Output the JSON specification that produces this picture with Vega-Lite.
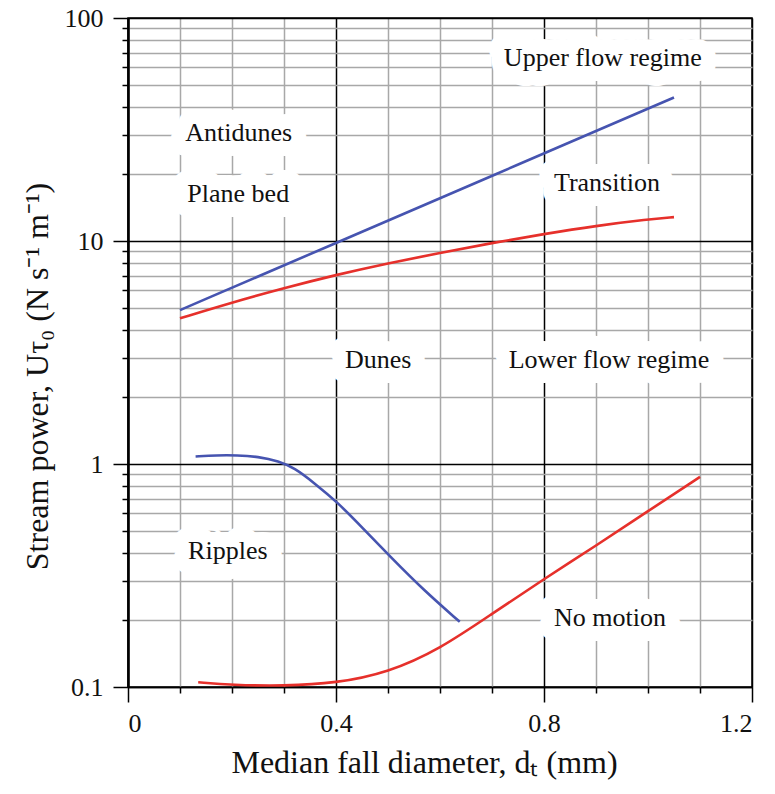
{
  "$schema": "https://vega.github.io/schema/vega-lite/v6.json",
  "width": 624,
  "height": 669,
  "autosize": "none",
  "padding": {"left": 128, "top": 18, "right": 23, "bottom": 107},
  "background": "white",
  "config": {
    "view": {"stroke": "black", "strokeWidth": 1.5},
    "axis": {
      "labelFont": "Liberation Serif",
      "titleFont": "Liberation Serif",
      "labelFontSize": 26,
      "titleFontSize": 32,
      "labelColor": "#111111",
      "titleColor": "#111111",
      "titleFontWeight": "normal",
      "tickColor": "black",
      "tickWidth": 1.5,
      "domainColor": "black"
    }
  },
  "datasets": {
    "curves": [
      {"curve": "upper_blue", "d": 0.1, "p": 4.9},
      {"curve": "upper_blue", "d": 0.4, "p": 9.8},
      {"curve": "upper_blue", "d": 0.7, "p": 19.6},
      {"curve": "upper_blue", "d": 1.05, "p": 44},
      {"curve": "upper_red", "d": 0.1, "p": 4.5},
      {"curve": "upper_red", "d": 0.2, "p": 5.3},
      {"curve": "upper_red", "d": 0.3, "p": 6.15},
      {"curve": "upper_red", "d": 0.4, "p": 7.05},
      {"curve": "upper_red", "d": 0.5, "p": 7.95},
      {"curve": "upper_red", "d": 0.6, "p": 8.85},
      {"curve": "upper_red", "d": 0.7, "p": 9.8},
      {"curve": "upper_red", "d": 0.8, "p": 10.75},
      {"curve": "upper_red", "d": 0.9, "p": 11.7},
      {"curve": "upper_red", "d": 1.0, "p": 12.5},
      {"curve": "upper_red", "d": 1.05, "p": 12.8},
      {"curve": "ripple_blue", "d": 0.13, "p": 1.08},
      {"curve": "ripple_blue", "d": 0.17, "p": 1.095},
      {"curve": "ripple_blue", "d": 0.21, "p": 1.095},
      {"curve": "ripple_blue", "d": 0.25, "p": 1.08},
      {"curve": "ripple_blue", "d": 0.29, "p": 1.03},
      {"curve": "ripple_blue", "d": 0.32, "p": 0.96},
      {"curve": "ripple_blue", "d": 0.356, "p": 0.83},
      {"curve": "ripple_blue", "d": 0.404, "p": 0.67},
      {"curve": "ripple_blue", "d": 0.45, "p": 0.52},
      {"curve": "ripple_blue", "d": 0.504, "p": 0.385},
      {"curve": "ripple_blue", "d": 0.57, "p": 0.27},
      {"curve": "ripple_blue", "d": 0.638, "p": 0.196},
      {"curve": "motion_red", "d": 0.135, "p": 0.105},
      {"curve": "motion_red", "d": 0.2, "p": 0.102},
      {"curve": "motion_red", "d": 0.3, "p": 0.101},
      {"curve": "motion_red", "d": 0.4, "p": 0.104},
      {"curve": "motion_red", "d": 0.5, "p": 0.116},
      {"curve": "motion_red", "d": 0.6, "p": 0.148},
      {"curve": "motion_red", "d": 0.7, "p": 0.213},
      {"curve": "motion_red", "d": 0.8, "p": 0.305},
      {"curve": "motion_red", "d": 0.9, "p": 0.43},
      {"curve": "motion_red", "d": 1.0, "p": 0.615},
      {"curve": "motion_red", "d": 1.1, "p": 0.875}
    ],
    "labels": [
      {"label": "Upper flow regime", "d": 0.913, "p": 66},
      {"label": "Antidunes", "d": 0.213, "p": 30.5},
      {"label": "Plane bed", "d": 0.212, "p": 16.2},
      {"label": "Transition", "d": 0.921, "p": 18.2},
      {"label": "Dunes", "d": 0.481, "p": 2.93},
      {"label": "Lower flow regime", "d": 0.925, "p": 2.93},
      {"label": "Ripples", "d": 0.192, "p": 0.407},
      {"label": "No motion", "d": 0.927, "p": 0.204}
    ]
  },
  "layer": [
    {
      "data": {"name": "labels"},
      "mark": {"type": "text", "font": "Liberation Serif", "fontSize": 26, "fill": "white", "stroke": "white", "strokeWidth": 30, "strokeJoin": "round", "baseline": "middle", "align": "center"},
      "encoding": {
        "x": {"field": "d", "type": "quantitative", "scale": {"domain": [0, 1.2], "nice": false, "zero": false},
          "axis": {"orient": "bottom", "values": [0, 0.4, 0.8, 1.2], "format": "~g", "grid": true, "gridColor": "black", "gridWidth": 1.5, "tickSize": 15, "labelPadding": 8, "domainWidth": 1.5, "title": "Median fall diameter,  dₜ (mm)", "titlePadding": 11, "titleX": 296}},
        "y": {"field": "p", "type": "quantitative", "scale": {"type": "log", "domain": [0.1, 100], "nice": false},
          "axis": {"orient": "left", "values": [0.1, 1, 10, 100], "format": "~g", "grid": true, "gridColor": "black", "gridWidth": 1.5, "tickSize": 15, "labelPadding": 10, "domainWidth": 2.5, "title": "Stream power, Uτ₀  (N s⁻¹ m⁻¹)", "titlePadding": 10, "titleY": 358}},
        "text": {"field": "label"}
      }
    },
    {
      "data": {"name": "curves"},
      "mark": {"type": "line", "interpolate": "basis", "strokeWidth": 2.6},
      "encoding": {
        "x": {"field": "d", "type": "quantitative",
          "axis": {"orient": "bottom", "values": [0.1, 0.2, 0.3, 0.5, 0.6, 0.7, 0.9, 1.0, 1.1], "grid": true, "gridColor": "#a8a8a8", "gridWidth": 1.5, "tickSize": 6, "labels": false, "domain": false, "title": null}},
        "y": {"field": "p", "type": "quantitative",
          "axis": {"orient": "left", "values": [0.2, 0.3, 0.4, 0.5, 0.6, 0.7, 0.8, 0.9, 2, 3, 4, 5, 6, 7, 8, 9, 20, 30, 40, 50, 60, 70, 80, 90], "grid": true, "gridColor": "#a8a8a8", "gridWidth": 1.5, "tickSize": 6, "labels": false, "domain": false, "title": null}},
        "color": {"field": "curve", "type": "nominal", "scale": {"domain": ["upper_blue", "upper_red", "ripple_blue", "motion_red"], "range": ["#4654b0", "#e6302b", "#4654b0", "#e6302b"]}, "legend": null}
      }
    },
    {
      "data": {"name": "labels"},
      "mark": {"type": "text", "font": "Liberation Serif", "fontSize": 26, "fill": "#111111", "baseline": "middle", "align": "center"},
      "encoding": {
        "x": {"field": "d", "type": "quantitative", "axis": null},
        "y": {"field": "p", "type": "quantitative", "axis": null},
        "text": {"field": "label"}
      }
    }
  ],
  "resolve": {"axis": {"x": "independent", "y": "independent"}}
}
